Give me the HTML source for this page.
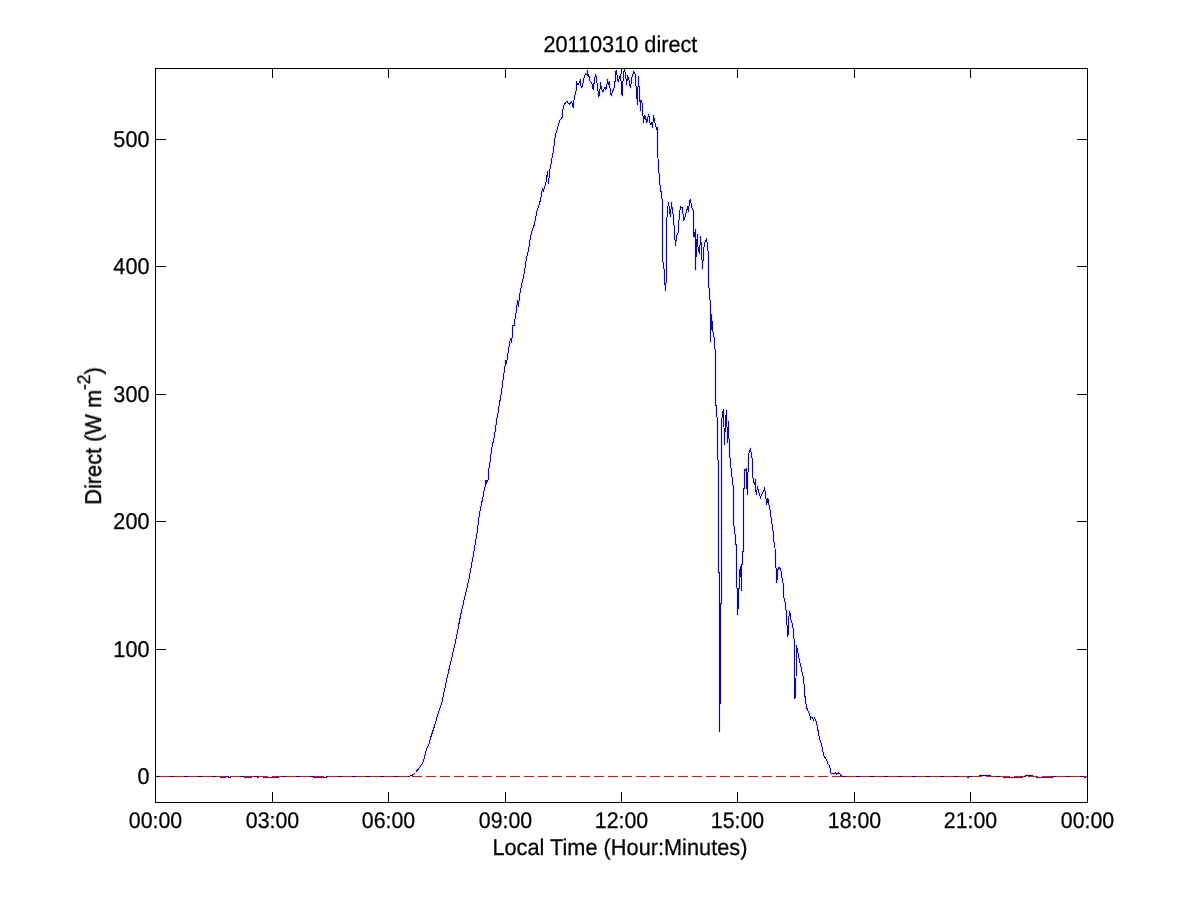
<!DOCTYPE html>
<html><head><meta charset="utf-8"><title>20110310 direct</title>
<style>
html,body{margin:0;padding:0;background:#fff;}
body{width:1201px;height:901px;overflow:hidden;font-family:"Liberation Sans",sans-serif;}
svg{display:block;position:absolute;left:0;top:0;}
text{font-family:"Liberation Sans",sans-serif;fill:#000;}
</style></head><body>
<svg width="1201" height="901" viewBox="0 0 1201 901">
<rect x="0" y="0" width="1201" height="901" fill="#ffffff"/>
<g stroke="#000" stroke-width="1" fill="none" shape-rendering="crispEdges">
<rect x="155.5" y="68.5" width="932.0" height="734.0"/>
<line x1="272.5" y1="802.5" x2="272.5" y2="792.0"/>
<line x1="272.5" y1="68.5" x2="272.5" y2="78.0"/>
<line x1="388.5" y1="802.5" x2="388.5" y2="792.0"/>
<line x1="388.5" y1="68.5" x2="388.5" y2="78.0"/>
<line x1="505.5" y1="802.5" x2="505.5" y2="792.0"/>
<line x1="505.5" y1="68.5" x2="505.5" y2="78.0"/>
<line x1="621.5" y1="802.5" x2="621.5" y2="792.0"/>
<line x1="621.5" y1="68.5" x2="621.5" y2="78.0"/>
<line x1="737.5" y1="802.5" x2="737.5" y2="792.0"/>
<line x1="737.5" y1="68.5" x2="737.5" y2="78.0"/>
<line x1="854.5" y1="802.5" x2="854.5" y2="792.0"/>
<line x1="854.5" y1="68.5" x2="854.5" y2="78.0"/>
<line x1="970.5" y1="802.5" x2="970.5" y2="792.0"/>
<line x1="970.5" y1="68.5" x2="970.5" y2="78.0"/>
<line x1="155.5" y1="776.5" x2="166.0" y2="776.5"/>
<line x1="1087.5" y1="776.5" x2="1077.0" y2="776.5"/>
<line x1="155.5" y1="649.5" x2="166.0" y2="649.5"/>
<line x1="1087.5" y1="649.5" x2="1077.0" y2="649.5"/>
<line x1="155.5" y1="521.5" x2="166.0" y2="521.5"/>
<line x1="1087.5" y1="521.5" x2="1077.0" y2="521.5"/>
<line x1="155.5" y1="394.5" x2="166.0" y2="394.5"/>
<line x1="1087.5" y1="394.5" x2="1077.0" y2="394.5"/>
<line x1="155.5" y1="266.5" x2="166.0" y2="266.5"/>
<line x1="1087.5" y1="266.5" x2="1077.0" y2="266.5"/>
<line x1="155.5" y1="139.5" x2="166.0" y2="139.5"/>
<line x1="1087.5" y1="139.5" x2="1077.0" y2="139.5"/>
</g>
<defs><clipPath id="pc"><rect x="156" y="69" width="931" height="733"/></clipPath></defs>
<g clip-path="url(#pc)">
<polyline points="156.0,776.5 220.7,776.5 221.0,777.5 225.0,777.5 225.3,776.5 228.7,776.5 229.0,777.5 230.0,777.5 230.3,776.5 244.7,776.5 245.0,777.5 251.0,777.5 251.3,776.5 257.7,776.5 258.0,777.5 258.6,777.5 258.9,776.5 263.2,776.5 263.5,777.5 278.0,777.5 278.3,776.5 313.2,776.5 313.5,777.5 326.0,777.5 326.3,776.5 408.0,776.5 408.8,776.5 412.0,775.5 415.5,772.5 419.5,767.5 423.5,761.5 424.5,756.5 426.5,749.5 429.0,744.0 430.5,738.0 434.5,726.0 438.5,712.0 441.5,704.0 447.5,676.0 455.0,643.8 461.2,612.5 468.8,580.0 473.8,552.5 477.5,530.0 478.5,520.0 479.5,514.0 480.5,508.5 481.5,503.0 482.5,500.0 483.5,494.0 484.5,489.0 485.5,485.0 485.5,481.0 486.5,480.5 486.5,483.5 487.5,481.0 488.5,479.0 488.5,470.0 489.5,466.0 490.5,458.0 491.5,451.0 492.5,444.0 493.5,441.0 494.5,436.0 495.5,429.0 496.5,421.0 497.5,416.0 498.5,410.0 499.5,402.0 500.5,399.0 501.5,392.0 502.5,384.0 503.5,377.0 504.5,369.0 505.5,363.0 505.5,360.0 506.5,362.5 507.5,357.0 508.5,350.0 509.5,345.0 510.5,338.0 511.5,343.0 512.5,333.0 513.0,325.0 514.0,326.0 514.5,322.0 515.5,317.0 516.5,309.0 517.5,300.5 518.5,306.5 519.5,296.0 520.5,290.5 521.5,286.0 522.5,281.0 523.5,277.0 524.5,272.0 525.5,265.0 526.5,258.0 527.5,253.5 528.5,251.0 529.5,244.0 530.5,236.0 531.5,233.5 532.5,229.0 533.5,226.5 533.7,228.0 534.5,224.0 535.5,219.0 536.5,213.0 537.5,209.5 538.5,206.5 539.5,203.0 540.5,200.0 541.5,194.0 542.5,188.0 543.5,191.5 544.5,187.0 545.5,185.0 546.5,179.0 547.5,171.0 548.5,183.5 549.5,172.0 550.5,167.0 551.5,161.0 552.5,156.0 553.5,150.0 554.5,142.0 555.5,135.0 557.1,130.0 558.8,123.3 559.6,120.8 562.1,117.5 562.9,110.0 563.8,105.4 566.7,101.2 569.2,104.2 571.7,101.7 573.3,107.5 574.2,97.5 575.8,93.3 576.7,82.5 577.9,85.0 580.4,80.0 581.2,87.5 582.5,85.8 583.8,78.3 585.4,73.8 587.1,75.0 587.5,70.4 588.3,75.8 589.6,76.7 590.0,80.8 591.7,82.5 593.3,90.0 594.6,78.3 595.7,74.6 597.1,83.3 598.8,97.1 599.6,93.3 600.7,82.5 601.2,87.5 602.9,92.1 605.0,86.7 605.4,90.0 606.7,86.7 607.7,78.8 608.3,84.2 609.2,82.5 611.2,96.2 612.5,91.7 614.6,86.7 615.8,71.7 616.7,70.4 617.1,76.7 618.3,81.7 619.6,76.7 620.6,75.0 622.1,96.2 622.9,82.5 624.2,69.2 625.4,73.3 626.7,85.0 627.5,75.8 628.8,78.3 630.4,88.3 632.1,76.7 633.8,71.7 635.4,75.0 636.2,89.2 637.5,104.6 637.9,89.2 638.5,76.2 639.2,90.0 639.8,98.3 640.6,110.8 640.8,100.0 642.1,103.3 642.9,115.0 643.6,122.5 644.6,115.0 645.8,118.3 646.7,123.3 648.6,113.8 649.6,120.0 650.4,125.0 651.5,121.7 652.5,127.5 653.6,115.4 655.0,123.3 656.7,129.2 657.5,126.7 657.7,135.0 657.5,149.0 658.5,167.0 659.5,179.0 660.5,191.0 661.5,192.0 662.2,202.0 662.5,210.0 662.5,258.0 664.0,269.0 664.8,283.0 665.5,290.5 666.2,280.0 666.5,224.0 667.5,210.0 668.5,202.0 670.0,214.0 670.5,217.0 671.5,202.0 672.2,209.0 673.5,217.0 674.5,233.0 675.5,246.0 676.5,236.0 678.0,233.0 679.5,214.0 680.5,206.5 682.5,208.0 683.5,220.0 684.5,219.0 686.0,213.0 688.0,206.0 688.5,212.0 689.5,201.0 690.5,199.5 691.5,207.0 693.5,211.0 694.0,237.0 695.5,229.0 695.5,270.0 696.5,244.0 697.5,234.0 698.0,247.0 699.5,254.0 700.5,236.0 701.0,242.0 702.5,269.0 704.0,247.0 705.0,242.0 706.5,239.0 707.5,244.0 708.5,258.0 708.8,285.5 709.8,297.0 710.8,313.0 710.6,342.5 711.5,314.0 712.5,327.0 713.5,336.0 714.5,338.0 715.5,360.0 715.5,405.0 716.5,406.0 716.8,417.0 717.5,418.0 717.8,460.0 718.5,461.0 718.5,572.0 719.5,573.0 719.5,731.7 719.5,704.0 720.5,703.0 720.5,604.0 721.5,603.0 721.5,423.5 722.5,413.0 723.5,409.0 724.0,427.0 724.5,444.5 725.5,420.0 726.5,410.0 727.2,433.0 727.5,442.5 728.5,421.0 729.0,439.0 730.0,458.0 731.5,473.0 733.0,485.0 733.5,487.0 733.5,523.0 734.8,530.0 735.5,544.0 736.5,545.0 736.8,587.0 737.8,590.0 737.5,614.5 738.5,603.0 738.5,589.0 739.5,588.0 739.5,572.0 740.5,566.0 740.5,576.0 741.5,575.0 741.5,590.7 741.5,565.0 742.5,564.0 742.5,552.0 743.5,551.0 743.5,489.0 744.5,488.0 744.5,469.5 745.5,470.0 746.5,468.5 746.8,486.0 747.5,494.5 747.8,480.0 748.5,454.5 750.5,448.5 751.5,456.0 752.5,460.5 753.0,478.0 754.5,485.0 755.5,479.5 755.5,489.0 756.5,494.5 757.5,486.5 758.5,491.0 760.5,497.5 764.5,488.5 765.5,493.0 766.5,504.5 768.0,498.5 769.0,505.0 770.5,512.0 771.5,522.0 772.8,527.0 773.5,540.0 774.8,544.0 775.5,559.0 776.0,568.0 776.8,582.5 777.8,570.0 779.0,567.5 780.8,569.0 781.8,577.5 782.8,579.0 783.8,597.0 785.5,604.0 786.5,616.0 787.0,625.0 787.8,635.5 788.8,634.0 789.0,616.0 789.5,611.5 790.5,614.5 791.0,620.0 792.5,625.0 793.5,631.0 794.5,646.0 795.0,698.5 796.0,678.0 796.5,645.0 797.5,650.0 800.0,663.0 803.5,678.0 805.3,700.0 806.7,708.0 809.3,713.3 810.7,718.7 812.0,716.7 813.3,720.0 814.4,718.0 816.0,720.7 817.3,726.7 819.3,737.3 821.3,744.0 824.0,756.0 826.0,758.7 828.0,764.0 829.3,765.3 831.3,774.0 833.3,773.3 835.3,773.0 836.7,774.4 838.7,772.7 842.0,776.5 967.0,776.5 967.3,777.5 968.0,777.5 968.3,776.5 979.0,776.5 979.3,775.5 990.7,775.5 991.0,776.5 1003.7,776.5 1004.0,777.5 1022.0,777.5 1022.3,776.5 1025.0,776.5 1025.3,775.5 1032.7,775.5 1033.0,776.5 1036.4,776.5 1036.7,777.5 1052.7,777.5 1053.0,776.5 1084.4,776.5 1084.7,777.5 1085.4,777.5 1085.7,776.5 1087.0,776.5" fill="none" stroke="#e6e6ff" stroke-width="3" stroke-linejoin="round" stroke-linecap="round"/>
<line x1="159.5" y1="776.5" x2="1087.5" y2="776.5" stroke="#fff0ee" stroke-width="3" stroke-dasharray="11 3"/>
<polyline points="156.0,776.5 220.7,776.5 221.0,777.5 225.0,777.5 225.3,776.5 228.7,776.5 229.0,777.5 230.0,777.5 230.3,776.5 244.7,776.5 245.0,777.5 251.0,777.5 251.3,776.5 257.7,776.5 258.0,777.5 258.6,777.5 258.9,776.5 263.2,776.5 263.5,777.5 278.0,777.5 278.3,776.5 313.2,776.5 313.5,777.5 326.0,777.5 326.3,776.5 408.0,776.5 408.8,776.5 412.0,775.5 415.5,772.5 419.5,767.5 423.5,761.5 424.5,756.5 426.5,749.5 429.0,744.0 430.5,738.0 434.5,726.0 438.5,712.0 441.5,704.0 447.5,676.0 455.0,643.8 461.2,612.5 468.8,580.0 473.8,552.5 477.5,530.0 478.5,520.0 479.5,514.0 480.5,508.5 481.5,503.0 482.5,500.0 483.5,494.0 484.5,489.0 485.5,485.0 485.5,481.0 486.5,480.5 486.5,483.5 487.5,481.0 488.5,479.0 488.5,470.0 489.5,466.0 490.5,458.0 491.5,451.0 492.5,444.0 493.5,441.0 494.5,436.0 495.5,429.0 496.5,421.0 497.5,416.0 498.5,410.0 499.5,402.0 500.5,399.0 501.5,392.0 502.5,384.0 503.5,377.0 504.5,369.0 505.5,363.0 505.5,360.0 506.5,362.5 507.5,357.0 508.5,350.0 509.5,345.0 510.5,338.0 511.5,343.0 512.5,333.0 513.0,325.0 514.0,326.0 514.5,322.0 515.5,317.0 516.5,309.0 517.5,300.5 518.5,306.5 519.5,296.0 520.5,290.5 521.5,286.0 522.5,281.0 523.5,277.0 524.5,272.0 525.5,265.0 526.5,258.0 527.5,253.5 528.5,251.0 529.5,244.0 530.5,236.0 531.5,233.5 532.5,229.0 533.5,226.5 533.7,228.0 534.5,224.0 535.5,219.0 536.5,213.0 537.5,209.5 538.5,206.5 539.5,203.0 540.5,200.0 541.5,194.0 542.5,188.0 543.5,191.5 544.5,187.0 545.5,185.0 546.5,179.0 547.5,171.0 548.5,183.5 549.5,172.0 550.5,167.0 551.5,161.0 552.5,156.0 553.5,150.0 554.5,142.0 555.5,135.0 557.1,130.0 558.8,123.3 559.6,120.8 562.1,117.5 562.9,110.0 563.8,105.4 566.7,101.2 569.2,104.2 571.7,101.7 573.3,107.5 574.2,97.5 575.8,93.3 576.7,82.5 577.9,85.0 580.4,80.0 581.2,87.5 582.5,85.8 583.8,78.3 585.4,73.8 587.1,75.0 587.5,70.4 588.3,75.8 589.6,76.7 590.0,80.8 591.7,82.5 593.3,90.0 594.6,78.3 595.7,74.6 597.1,83.3 598.8,97.1 599.6,93.3 600.7,82.5 601.2,87.5 602.9,92.1 605.0,86.7 605.4,90.0 606.7,86.7 607.7,78.8 608.3,84.2 609.2,82.5 611.2,96.2 612.5,91.7 614.6,86.7 615.8,71.7 616.7,70.4 617.1,76.7 618.3,81.7 619.6,76.7 620.6,75.0 622.1,96.2 622.9,82.5 624.2,69.2 625.4,73.3 626.7,85.0 627.5,75.8 628.8,78.3 630.4,88.3 632.1,76.7 633.8,71.7 635.4,75.0 636.2,89.2 637.5,104.6 637.9,89.2 638.5,76.2 639.2,90.0 639.8,98.3 640.6,110.8 640.8,100.0 642.1,103.3 642.9,115.0 643.6,122.5 644.6,115.0 645.8,118.3 646.7,123.3 648.6,113.8 649.6,120.0 650.4,125.0 651.5,121.7 652.5,127.5 653.6,115.4 655.0,123.3 656.7,129.2 657.5,126.7 657.7,135.0 657.5,149.0 658.5,167.0 659.5,179.0 660.5,191.0 661.5,192.0 662.2,202.0 662.5,210.0 662.5,258.0 664.0,269.0 664.8,283.0 665.5,290.5 666.2,280.0 666.5,224.0 667.5,210.0 668.5,202.0 670.0,214.0 670.5,217.0 671.5,202.0 672.2,209.0 673.5,217.0 674.5,233.0 675.5,246.0 676.5,236.0 678.0,233.0 679.5,214.0 680.5,206.5 682.5,208.0 683.5,220.0 684.5,219.0 686.0,213.0 688.0,206.0 688.5,212.0 689.5,201.0 690.5,199.5 691.5,207.0 693.5,211.0 694.0,237.0 695.5,229.0 695.5,270.0 696.5,244.0 697.5,234.0 698.0,247.0 699.5,254.0 700.5,236.0 701.0,242.0 702.5,269.0 704.0,247.0 705.0,242.0 706.5,239.0 707.5,244.0 708.5,258.0 708.8,285.5 709.8,297.0 710.8,313.0 710.6,342.5 711.5,314.0 712.5,327.0 713.5,336.0 714.5,338.0 715.5,360.0 715.5,405.0 716.5,406.0 716.8,417.0 717.5,418.0 717.8,460.0 718.5,461.0 718.5,572.0 719.5,573.0 719.5,731.7 719.5,704.0 720.5,703.0 720.5,604.0 721.5,603.0 721.5,423.5 722.5,413.0 723.5,409.0 724.0,427.0 724.5,444.5 725.5,420.0 726.5,410.0 727.2,433.0 727.5,442.5 728.5,421.0 729.0,439.0 730.0,458.0 731.5,473.0 733.0,485.0 733.5,487.0 733.5,523.0 734.8,530.0 735.5,544.0 736.5,545.0 736.8,587.0 737.8,590.0 737.5,614.5 738.5,603.0 738.5,589.0 739.5,588.0 739.5,572.0 740.5,566.0 740.5,576.0 741.5,575.0 741.5,590.7 741.5,565.0 742.5,564.0 742.5,552.0 743.5,551.0 743.5,489.0 744.5,488.0 744.5,469.5 745.5,470.0 746.5,468.5 746.8,486.0 747.5,494.5 747.8,480.0 748.5,454.5 750.5,448.5 751.5,456.0 752.5,460.5 753.0,478.0 754.5,485.0 755.5,479.5 755.5,489.0 756.5,494.5 757.5,486.5 758.5,491.0 760.5,497.5 764.5,488.5 765.5,493.0 766.5,504.5 768.0,498.5 769.0,505.0 770.5,512.0 771.5,522.0 772.8,527.0 773.5,540.0 774.8,544.0 775.5,559.0 776.0,568.0 776.8,582.5 777.8,570.0 779.0,567.5 780.8,569.0 781.8,577.5 782.8,579.0 783.8,597.0 785.5,604.0 786.5,616.0 787.0,625.0 787.8,635.5 788.8,634.0 789.0,616.0 789.5,611.5 790.5,614.5 791.0,620.0 792.5,625.0 793.5,631.0 794.5,646.0 795.0,698.5 796.0,678.0 796.5,645.0 797.5,650.0 800.0,663.0 803.5,678.0 805.3,700.0 806.7,708.0 809.3,713.3 810.7,718.7 812.0,716.7 813.3,720.0 814.4,718.0 816.0,720.7 817.3,726.7 819.3,737.3 821.3,744.0 824.0,756.0 826.0,758.7 828.0,764.0 829.3,765.3 831.3,774.0 833.3,773.3 835.3,773.0 836.7,774.4 838.7,772.7 842.0,776.5 967.0,776.5 967.3,777.5 968.0,777.5 968.3,776.5 979.0,776.5 979.3,775.5 990.7,775.5 991.0,776.5 1003.7,776.5 1004.0,777.5 1022.0,777.5 1022.3,776.5 1025.0,776.5 1025.3,775.5 1032.7,775.5 1033.0,776.5 1036.4,776.5 1036.7,777.5 1052.7,777.5 1053.0,776.5 1084.4,776.5 1084.7,777.5 1085.4,777.5 1085.7,776.5 1087.0,776.5" fill="none" stroke="#0e0c8c" stroke-width="1" shape-rendering="crispEdges" stroke-linejoin="miter"/>
<line x1="160" y1="776.5" x2="1087.5" y2="776.5" stroke="#a82c26" stroke-width="1" stroke-dasharray="10 4" shape-rendering="crispEdges"/>
<rect x="221.0" y="777" width="4.0" height="1" fill="#6a1668" shape-rendering="crispEdges"/>
<rect x="229.0" y="777" width="1.0" height="1" fill="#6a1668" shape-rendering="crispEdges"/>
<rect x="245.0" y="777" width="6.0" height="1" fill="#6a1668" shape-rendering="crispEdges"/>
<rect x="258.0" y="777" width="1.0" height="1" fill="#6a1668" shape-rendering="crispEdges"/>
<rect x="263.5" y="777" width="14.5" height="1" fill="#6a1668" shape-rendering="crispEdges"/>
<rect x="313.5" y="777" width="12.5" height="1" fill="#6a1668" shape-rendering="crispEdges"/>
<rect x="967.3" y="777" width="1.0" height="1" fill="#6a1668" shape-rendering="crispEdges"/>
<rect x="1004.0" y="777" width="18.0" height="1" fill="#6a1668" shape-rendering="crispEdges"/>
<rect x="1036.7" y="777" width="16.0" height="1" fill="#6a1668" shape-rendering="crispEdges"/>
<rect x="1084.7" y="777" width="1.0" height="1" fill="#6a1668" shape-rendering="crispEdges"/>
</g>
<g font-size="21.60" text-rendering="geometricPrecision" opacity="0.999" stroke="#000" stroke-width="0.25">
<text transform="translate(620.40,52.00) scale(1,1.060)" text-anchor="middle" textLength="154.0" lengthAdjust="spacingAndGlyphs">20110310 direct</text>
<text transform="translate(155.50,828.00) scale(1,1.060)" text-anchor="middle" font-size="21.35">00:00</text>
<text transform="translate(272.50,828.00) scale(1,1.060)" text-anchor="middle" font-size="21.35">03:00</text>
<text transform="translate(388.50,828.00) scale(1,1.060)" text-anchor="middle" font-size="21.35">06:00</text>
<text transform="translate(505.50,828.00) scale(1,1.060)" text-anchor="middle" font-size="21.35">09:00</text>
<text transform="translate(621.50,828.00) scale(1,1.060)" text-anchor="middle" font-size="21.35">12:00</text>
<text transform="translate(737.50,828.00) scale(1,1.060)" text-anchor="middle" font-size="21.35">15:00</text>
<text transform="translate(854.50,828.00) scale(1,1.060)" text-anchor="middle" font-size="21.35">18:00</text>
<text transform="translate(970.50,828.00) scale(1,1.060)" text-anchor="middle" font-size="21.35">21:00</text>
<text transform="translate(1087.50,828.00) scale(1,1.060)" text-anchor="middle" font-size="21.35">00:00</text>
<text transform="translate(149.40,784.00) scale(1,1.060)" text-anchor="end">0</text>
<text transform="translate(149.40,657.00) scale(1,1.060)" text-anchor="end">100</text>
<text transform="translate(149.40,529.00) scale(1,1.060)" text-anchor="end">200</text>
<text transform="translate(149.40,402.00) scale(1,1.060)" text-anchor="end">300</text>
<text transform="translate(149.40,274.00) scale(1,1.060)" text-anchor="end">400</text>
<text transform="translate(149.40,147.00) scale(1,1.060)" text-anchor="end">500</text>
<text transform="translate(619.90,855.00) scale(1,1.060)" text-anchor="middle" textLength="255" lengthAdjust="spacingAndGlyphs">Local Time (Hour:Minutes)</text>
<text id="yl" stroke-width="0.4" transform="translate(100.6,504.7) rotate(-90) scale(1,1.060)" textLength="137.5" lengthAdjust="spacingAndGlyphs">Direct (W m<tspan dy="-10.4" font-size="17.2">-2</tspan><tspan dy="10.4">)</tspan></text>
</g>
</svg>
</body></html>
